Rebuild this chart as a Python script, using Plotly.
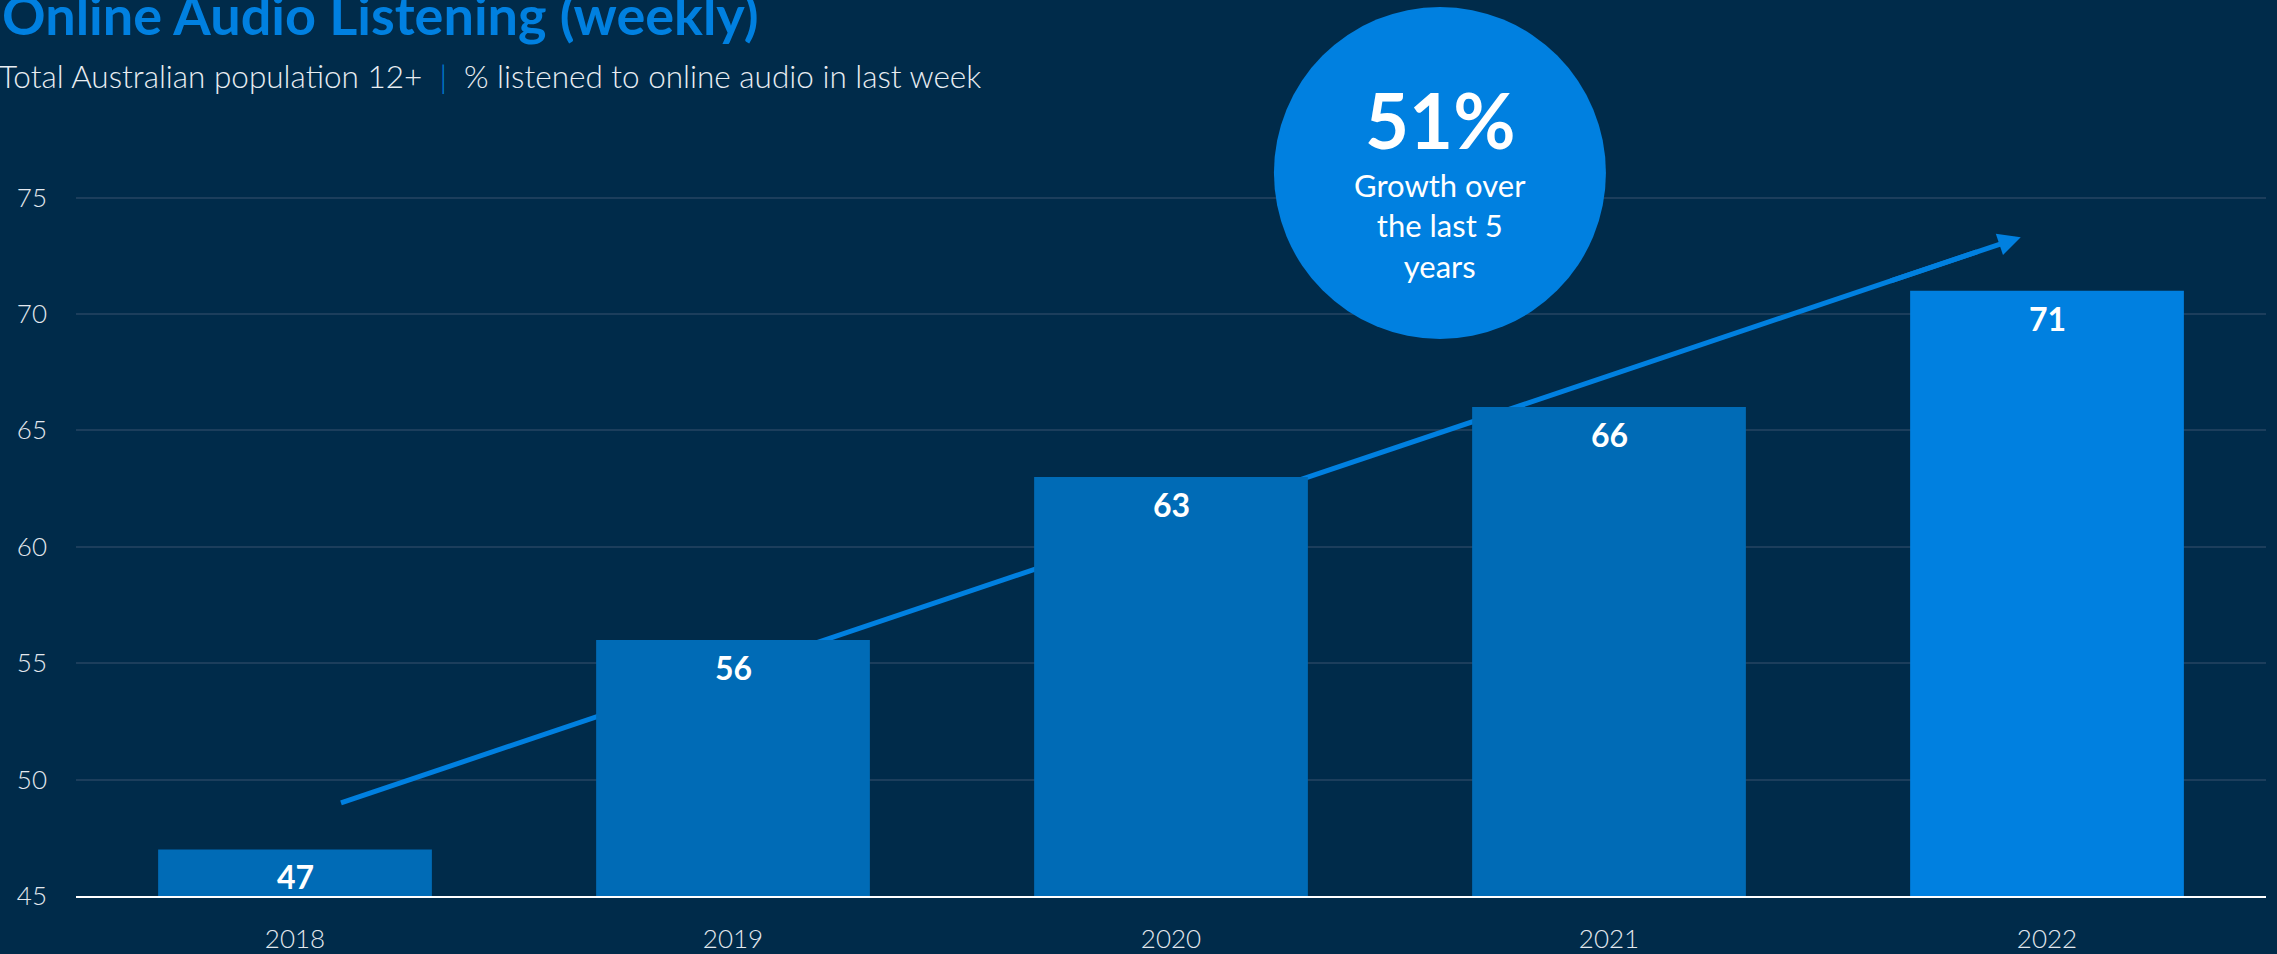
import plotly.graph_objects as go

years = ["2018", "2019", "2020", "2021", "2022"]
listened = [47, 56, 63, 66, 71]
bar_colors = ["#006BB6", "#006BB6", "#006BB6", "#006BB6", "#0080E0"]
y_ticks = [45, 50, 55, 60, 65, 70, 75]

growth_headline = "51%"
growth_text = "Growth over<br>the last 5<br>years"

# trend arrow, in category index / value units
trend_x = [0.105, 3.94]
trend_y = [49.0, 73.3]

BG = "#002B4A"
BLUE = "#0080E0"
FONT = "Lato"


def trend_at(x):
    return trend_y[0] + (trend_y[1] - trend_y[0]) * (x - trend_x[0]) / (trend_x[1] - trend_x[0])


def paper_y(px):
    # pixel row from the top of the figure -> paper y
    return (896 - px) / 745


fig = go.Figure()

fig.add_trace(
    go.Bar(
        x=list(range(len(years))),
        y=listened,
        marker=dict(color=bar_colors, line=dict(width=0)),
        width=0.625,
        hoverinfo="skip",
        showlegend=False,
    )
)

# value labels just inside the top of each bar
for i, value in enumerate(listened):
    fig.add_annotation(
        x=i,
        y=value,
        text=f"<b>{value}</b>",
        showarrow=False,
        yanchor="top",
        yshift=-6,
        font=dict(family=FONT, size=32, color="white"),
    )

# trend line sits between gridlines and bars
fig.add_shape(
    type="line",
    xref="x",
    yref="y",
    x0=trend_x[0],
    y0=trend_y[0],
    x1=trend_x[1] - 0.1,
    y1=trend_at(trend_x[1] - 0.1),
    line=dict(color=BLUE, width=5),
    layer="between",
)
fig.add_annotation(
    x=trend_x[1],
    y=trend_y[1],
    ax=trend_x[1] - 0.3,
    ay=trend_at(trend_x[1] - 0.3),
    xref="x",
    yref="y",
    axref="x",
    ayref="y",
    text="",
    showarrow=True,
    arrowhead=2,
    arrowsize=0.9,
    arrowwidth=5,
    arrowcolor=BLUE,
)

# growth bubble
fig.add_shape(
    type="circle",
    xref="paper",
    yref="paper",
    xsizemode="pixel",
    ysizemode="pixel",
    xanchor=0.6228,
    yanchor=0.9705,
    x0=-166,
    x1=166,
    y0=-166,
    y1=166,
    fillcolor=BLUE,
    line=dict(width=0),
    layer="above",
)
fig.add_annotation(
    xref="paper",
    yref="paper",
    x=0.6228,
    y=paper_y(119),
    xanchor="center",
    yanchor="middle",
    text=f"<b>{growth_headline}</b>",
    showarrow=False,
    font=dict(family=FONT, size=76, color="white"),
)
fig.add_annotation(
    xref="paper",
    yref="paper",
    x=0.6228,
    y=paper_y(226),
    xanchor="center",
    yanchor="middle",
    text=growth_text,
    showarrow=False,
    align="center",
    font=dict(family=FONT, size=31, color="white"),
)

# title and subtitle
fig.add_annotation(
    xref="paper",
    yref="paper",
    x=-76 / 2190,
    xanchor="left",
    y=paper_y(15),
    yanchor="middle",
    text="<b>Online Audio Listening (weekly)</b>",
    showarrow=False,
    font=dict(family=FONT, size=54, color=BLUE),
)
fig.add_annotation(
    xref="paper",
    yref="paper",
    x=-79 / 2190,
    xanchor="left",
    y=paper_y(76),
    yanchor="middle",
    text=f"Total Australian population 12+  <span style='color:{BLUE}'>|</span>  % listened to online audio in last week",
    showarrow=False,
    font=dict(family=FONT, size=31.5, color="#E8EDF2", weight=300),
)

fig.update_xaxes(
    range=[-0.5, len(years) - 0.5],
    tickvals=list(range(len(years))),
    ticktext=years,
    showgrid=False,
    zeroline=False,
    showline=True,
    linecolor="white",
    linewidth=2,
    ticks="",
    ticklabelstandoff=19,
    automargin=False,
    tickfont=dict(family=FONT, size=26, color="#E3E8EE", weight=300),
)
fig.update_yaxes(
    range=[45, 77],
    tickvals=y_ticks,
    showgrid=True,
    gridcolor="#1C3E5C",
    gridwidth=2,
    zeroline=False,
    showline=False,
    ticks="",
    ticklabelstandoff=28,
    automargin=False,
    tickfont=dict(family=FONT, size=26, color="#E3E8EE", weight=300),
)

fig.update_layout(
    width=2277,
    height=954,
    paper_bgcolor=BG,
    plot_bgcolor=BG,
    margin=dict(l=76, r=11, t=151, b=58),
    showlegend=False,
)

fig.write_html(
    "out.html",
    config={"displayModeBar": False},
    post_script="document.body.style.margin='0';",
)
